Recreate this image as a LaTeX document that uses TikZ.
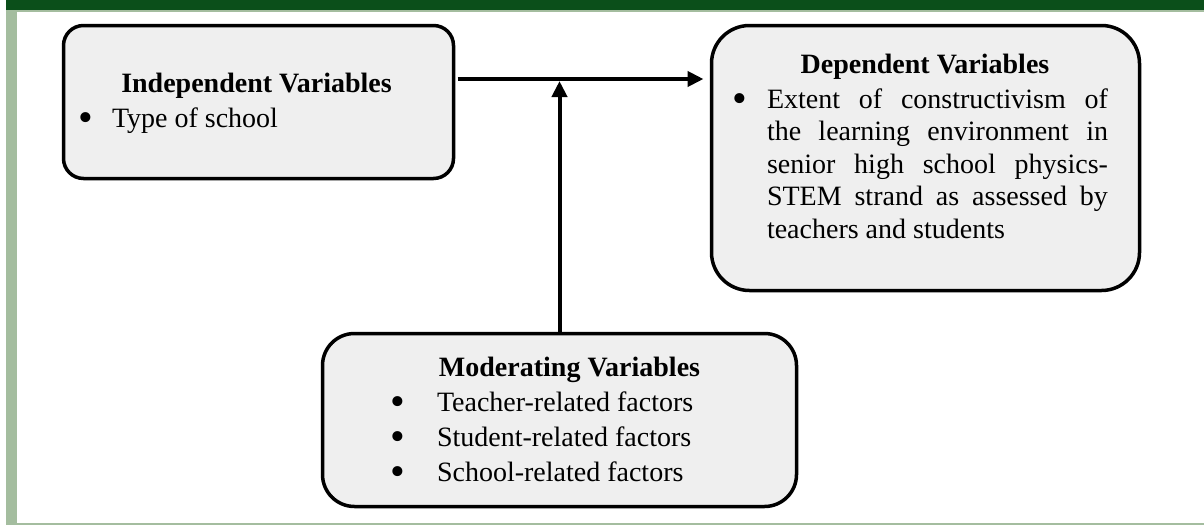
\documentclass[tikz,border=0pt]{standalone}
\usepackage{fontspec}
\setmainfont{Liberation Serif}
\usetikzlibrary{arrows.meta}
\definecolor{darkband}{HTML}{0B4F1A}
\definecolor{lightband}{HTML}{A4BD9F}
\definecolor{boxfill}{HTML}{EFEFEF}
\newcommand{\bigbul}{\raisebox{-4.5pt}[14pt][0pt]{\scalebox{1.5}{\textbullet}}}
\tikzset{
  varbox/.style={draw=black, line width=3.5pt, fill=boxfill, inner sep=0pt, outer sep=0pt},
  txt/.style={inner sep=0pt, outer sep=0pt, font=\fontsize{28}{32.5}\selectfont},
  ttl/.style={txt, font=\fontsize{28}{32.5}\selectfont\bfseries, anchor=base},
  bul/.style={txt, anchor=base},
  item/.style={txt, anchor=base west},
  arr/.style={line width=4pt, -{Triangle[length=16pt,width=15pt]}}
}
\begin{document}
\begin{tikzpicture}[x=1pt,y=-1pt]
\useasboundingbox (0,0) rectangle (1204,525);
% frame decoration
\fill[darkband] (6,0) rectangle (1204,10);
\fill[lightband] (6,10) rectangle (1204,12);
\fill[lightband] (6,10) rectangle (17,525);
\fill[lightband] (6,523) rectangle (1204,525);
% boxes
\node[varbox, rounded corners=20pt, minimum width=390pt, minimum height=153pt] (ind) at (258.5,102) {};
\node[varbox, rounded corners=38pt, minimum width=428pt, minimum height=265pt] (dep) at (925.5,158) {};
\node[varbox, rounded corners=32pt, minimum width=474pt, minimum height=173pt] (mod) at (559.5,420) {};
% independent text
\node[ttl] (indt) at (256.5,92) {Independent Variables};
\node[bul] (indb) at (86,127) {\bigbul};
\node[item] (indi) at (112,127) {Type of school};
% dependent text
\node[ttl] (dept) at (925,73) {Dependent Variables};
\node[bul] (depb) at (740,108) {\bigbul};
\node[txt, anchor=north west, text width=341pt, align=justify] (depi) at (767,85.25)
  {\strut Extent of constructivism of\linebreak the learning environment in\linebreak senior high school physics-\linebreak STEM strand as assessed by\linebreak teachers and students};
% moderating text
\node[ttl] (modt) at (569.5,376) {Moderating Variables};
\node[bul] (modb1) at (398,411) {\bigbul};
\node[item] (modi1) at (437,411) {Teacher-related factors};
\node[bul] (modb2) at (398,446) {\bigbul};
\node[item] (modi2) at (437,446) {Student-related factors};
\node[bul] (modb3) at (398,481) {\bigbul};
\node[item] (modi3) at (437,481) {School-related factors};
% connectors
\coordinate (hy) at (0,79);
\draw[arr, shorten <=4pt, shorten >=8pt] (ind.east |- hy) -- (dep.west |- hy);
\draw[arr, shorten >=2pt] (mod.north) -- (mod.north |- hy);
\end{tikzpicture}
\end{document}
